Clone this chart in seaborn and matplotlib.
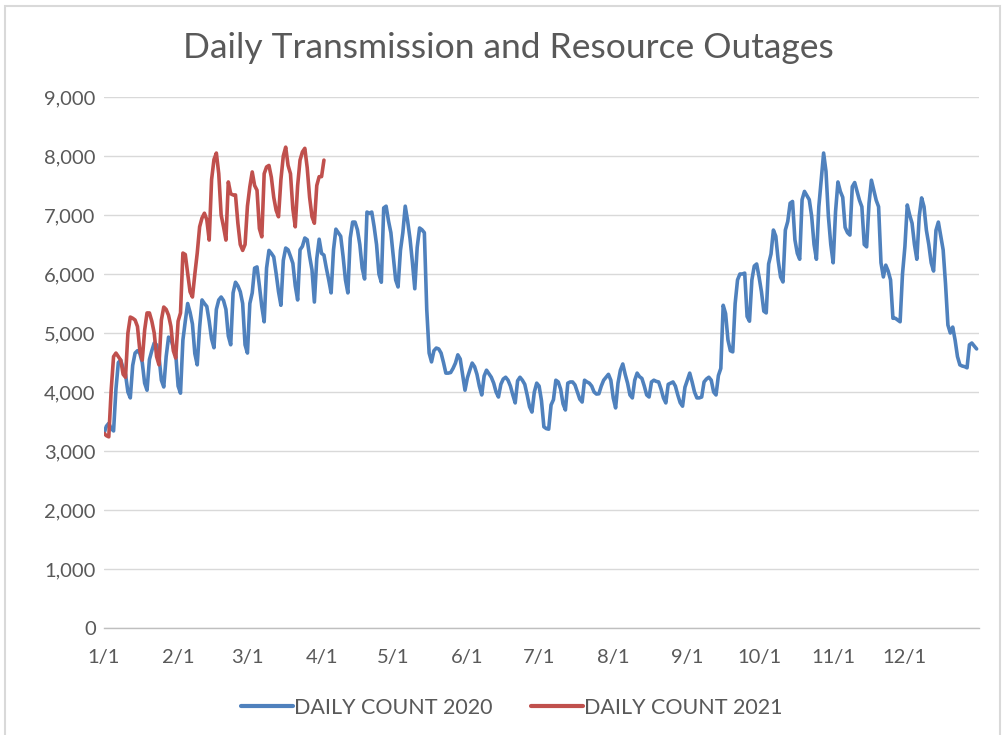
import numpy as np
import pandas as pd
import matplotlib
matplotlib.use("Agg")
import matplotlib.pyplot as plt
import seaborn as sns
from matplotlib.patches import Rectangle

# daily outage counts (2020 starts Wed Jan 1)
count_2020 = [
    3300, 3420, 3470, 3380, 3340,                  # Jan 1-5
    4050, 4500, 4540, 4400, 4300, 4000, 3900,      # Jan 6-12
    4450, 4660, 4700, 4650, 4500, 4150, 4030,      # Jan 13-19
    4550, 4700, 4830, 4800, 4600, 4200, 4085,      # Jan 20-26
    4600, 4930, 4900, 4750, 4650, 4100, 3980,      # Jan 27 - Feb 2
    4880, 5200, 5500, 5350, 5150, 4650, 4460,      # Feb 3-9
    5100, 5560, 5500, 5450, 5200, 4900, 4750,      # Feb 10-16
    5400, 5560, 5610, 5550, 5400, 4950, 4800,      # Feb 17-23
    5680, 5860, 5800, 5700, 5500, 4800, 4660,      # Feb 24 - Mar 1
    5500, 5680, 6100, 6120, 5800, 5450, 5190,      # Mar 2-8
    6100, 6400, 6350, 6290, 6010, 5700, 5470,      # Mar 9-15
    6230, 6440, 6410, 6300, 6180, 5800, 5560,      # Mar 16-22
    6410, 6470, 6610, 6580, 6300, 6070, 5525,      # Mar 23-29
    6260, 6590, 6350, 6320, 6100, 5900, 5680,      # Mar 30 - Apr 5
    6410, 6760, 6700, 6640, 6300, 5900, 5680,      # Apr 6-12
    6610, 6880, 6880, 6750, 6500, 6100, 5915,      # Apr 13-19
    7050, 7030, 7050, 6800, 6500, 6000, 5860,      # Apr 20-26
    7120, 7150, 6900, 6700, 6300, 5900, 5780,      # Apr 27 - May 3
    6400, 6700, 7150, 6900, 6600, 6200, 5750,      # May 4-10
    6450, 6780, 6750, 6700, 5400, 4660, 4510,      # May 11-17
    4700, 4745, 4730, 4660, 4500, 4320, 4320,      # May 18-24
    4330, 4400, 4490, 4630, 4560, 4300, 4030,      # May 25-31
    4240, 4370, 4490, 4430, 4300, 4100, 3950,      # Jun 1-7
    4270, 4370, 4310, 4250, 4150, 4000, 3915,      # Jun 8-14
    4130, 4220, 4250, 4200, 4100, 3950, 3815,      # Jun 15-21
    4190, 4250, 4200, 4130, 3950, 3750, 3660,      # Jun 22-28
    4000, 4150, 4100, 3850, 3410, 3380, 3370,      # Jun 29 - Jul 5
    3780, 3870, 4200, 4170, 4050, 3800, 3695,      # Jul 6-12
    4150, 4170, 4170, 4120, 4000, 3880, 3830,      # Jul 13-19
    4200, 4170, 4150, 4100, 4000, 3965, 3970,      # Jul 20-26
    4100, 4200, 4250, 4300, 4200, 3900, 3730,      # Jul 27 - Aug 2
    4150, 4370, 4475, 4300, 4150, 3950, 3900,      # Aug 3-9
    4200, 4320, 4260, 4230, 4100, 3950, 3915,      # Aug 10-16
    4170, 4200, 4180, 4170, 4050, 3900, 3815,      # Aug 17-23
    4130, 4150, 4170, 4100, 3950, 3820, 3760,      # Aug 24-30
    4080, 4200, 4320, 4170, 4000, 3900, 3900,      # Aug 31 - Sep 6
    3915, 4170, 4220, 4250, 4200, 4000, 3950,      # Sep 7-13
    4280, 4400, 5470, 5330, 4880, 4700, 4680,      # Sep 14-20
    5500, 5900, 6000, 6000, 6015, 5280, 5200,      # Sep 21-27
    5900, 6135, 6170, 5950, 5700, 5370, 5340,      # Sep 28 - Oct 4
    6170, 6340, 6745, 6640, 6230, 5950, 5865,      # Oct 5-11
    6745, 6890, 7200, 7230, 6580, 6350, 6250,      # Oct 12-18
    7260, 7400, 7330, 7260, 6980, 6500, 6250,      # Oct 19-25
    7140, 7600, 8050, 7740, 6980, 6500, 6190,      # Oct 26 - Nov 1
    7060, 7560, 7400, 7300, 6790, 6700, 6660,      # Nov 2-8
    7480, 7550, 7400, 7250, 7140, 6500, 6460,      # Nov 9-15
    7200, 7590, 7420, 7250, 7140, 6190, 5950,      # Nov 16-22
    6150, 6050, 5900, 5250, 5250, 5220, 5190,      # Nov 23-29
    6000, 6460, 7170, 7000, 6860, 6500, 6250,      # Nov 30 - Dec 6
    6980, 7290, 7140, 6740, 6500, 6190, 6050,      # Dec 7-13
    6740, 6880, 6640, 6410, 5830, 5135, 5000,      # Dec 14-20
    5100, 4880, 4600, 4460, 4440, 4430, 4410,      # Dec 21-27
    4800, 4830, 4780, 4730,                        # Dec 28-31
]

count_2021 = [
    3300, 3260, 3240,                              # Jan 1-3
    4030, 4600, 4660, 4600, 4540, 4300, 4250,      # Jan 4-10
    5000, 5270, 5250, 5220, 5110, 4700, 4540,      # Jan 11-17
    5050, 5340, 5340, 5200, 5000, 4600, 4460,      # Jan 18-24
    5220, 5440, 5400, 5300, 5110, 4700, 4575,      # Jan 25-31
    5200, 5340, 6355, 6330, 6010, 5700, 5610,      # Feb 1-7
    6000, 6355, 6800, 6950, 7030, 6920, 6575,      # Feb 8-14
    7600, 7940, 8050, 7700, 7000, 6800, 6575,      # Feb 15-21
    7560, 7360, 7340, 7340, 6860, 6500, 6400,      # Feb 22-28
    6500, 7150, 7480, 7730, 7500, 7420, 6770,      # Mar 1-7
    6630, 7700, 7815, 7840, 7640, 7300, 7080,      # Mar 8-14
    6970, 7600, 8000, 8150, 7840, 7700, 7100,      # Mar 15-21
    6800, 7500, 7930, 8070, 8130, 7800, 7300,      # Mar 22-28
    6970, 6860, 7500, 7650, 7650, 7930,            # Mar 29 - Apr 3
]

month_labels = ["1/1", "2/1", "3/1", "4/1", "5/1", "6/1",
                "7/1", "8/1", "9/1", "10/1", "11/1", "12/1"]
y_ticks = [0, 1000, 2000, 3000, 4000, 5000, 6000, 7000, 8000, 9000]

# both years share the same day-of-year axis
days_2020 = pd.date_range("2020-01-01", periods=len(count_2020), freq="D")
days_2021 = pd.date_range("2020-01-01", periods=len(count_2021), freq="D")
df = pd.concat([
    pd.DataFrame({"day": days_2020, "count": count_2020, "series": "DAILY COUNT 2020"}),
    pd.DataFrame({"day": days_2021, "count": count_2021, "series": "DAILY COUNT 2021"}),
])

sns.set_style("white")
plt.rcParams["font.family"] = ["Lato", "DejaVu Sans"]
text_grey = "#595959"

fig = plt.figure(figsize=(10.02, 7.35), dpi=100)
ax = fig.add_axes([104 / 1002, 1 - 628 / 735, (979 - 104) / 1002, (628 - 97) / 735])

sns.lineplot(data=df, x="day", y="count", hue="series",
             palette={"DAILY COUNT 2020": "#4F81BD", "DAILY COUNT 2021": "#C0504D"},
             linewidth=2.6, ax=ax, legend=True)
for line in ax.lines:
    line.set_solid_joinstyle("round")

ax.set_ylim(0, 9000)
ax.set_yticks(y_ticks)
ax.set_yticklabels([f"{v:,}" for v in y_ticks])
ax.set_xlim(pd.Timestamp("2020-01-01"), pd.Timestamp("2021-01-01"))
month_starts = pd.date_range("2020-01-01", "2021-01-01", freq="MS")
ax.set_xticks(month_starts)
ax.set_xticklabels(month_labels + [""])

ax.grid(axis="y", color="#d9d9d9", linewidth=1)
ax.set_axisbelow(True)
for side in ["top", "right", "left"]:
    ax.spines[side].set_visible(False)
ax.spines["bottom"].set_color("#bfbfbf")
ax.spines["bottom"].set_linewidth(1)
ax.tick_params(axis="y", length=0, pad=6, labelsize=14.5, labelcolor=text_grey)
ax.tick_params(axis="x", length=6, width=1, color="#bfbfbf", pad=9,
               labelsize=14.5, labelcolor=text_grey)
ax.set_xlabel("")
ax.set_ylabel("")

handles, labels = ax.get_legend_handles_labels()
ax.get_legend().remove()
leg = fig.legend(handles, labels, loc="center", bbox_to_anchor=(512 / 1002, 1 - 708 / 735),
                 ncol=2, frameon=False, fontsize=15.5, handlelength=2.4,
                 handletextpad=0.05, columnspacing=1.8)
for t in leg.get_texts():
    t.set_color(text_grey)
for h in leg.legend_handles:
    h.set_linewidth(3)

fig.text(508 / 1002, 1 - 48 / 735, "Daily Transmission and Resource Outages",
         ha="center", va="center", fontsize=25.5, color=text_grey)

# light chart-area border as in the spreadsheet export
fig.patches.append(Rectangle((5 / 1002, -0.05), 995 / 1002, (735 - 6) / 735 + 0.05,
                             transform=fig.transFigure, fill=False,
                             edgecolor="#d9d9d9", linewidth=1.5))

fig.savefig("out.png", dpi=100)
